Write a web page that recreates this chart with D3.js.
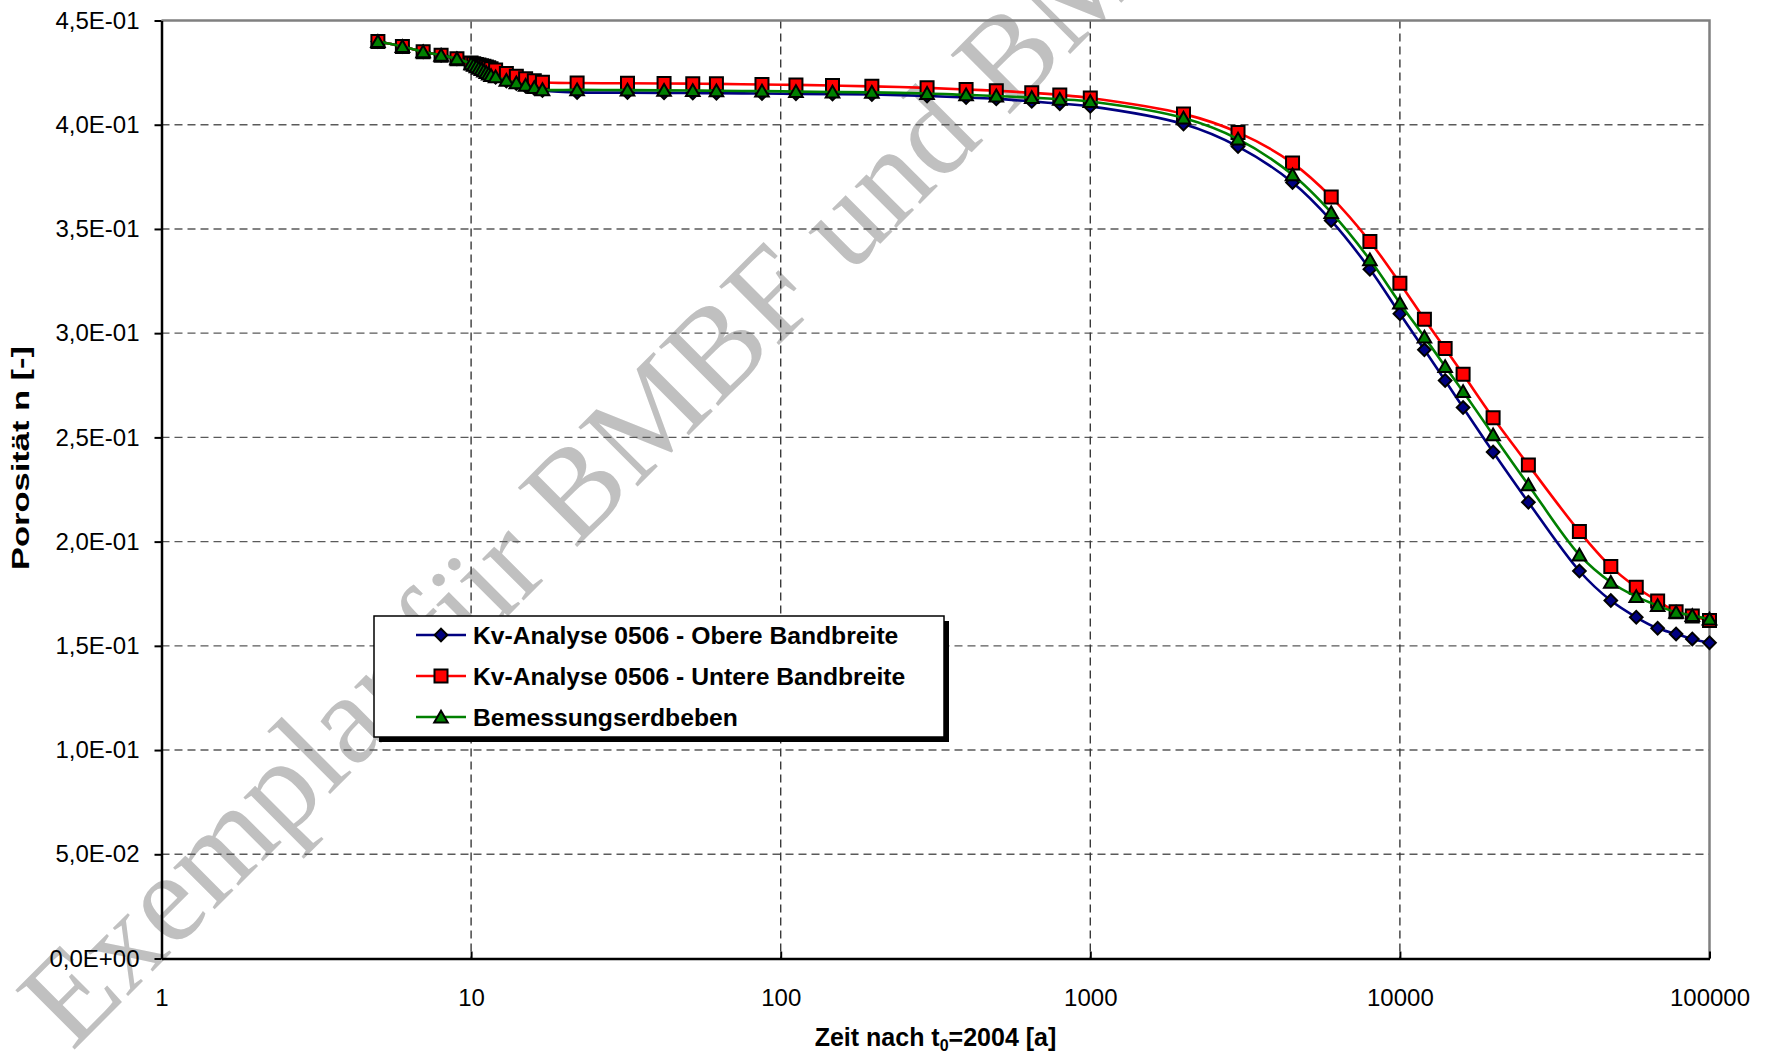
<!DOCTYPE html>
<html><head><meta charset="utf-8">
<script src="https://cdn.jsdelivr.net/npm/d3@7"></script>
<style>body{margin:0;background:#fff;overflow:hidden}</style>
</head><body><svg id="c" width="1772" height="1055"></svg>
<script>
// ---------- data ----------
const times = [5,6,7,8,9,10,10.2,10.4,10.6,10.8,11,11.2,11.4,11.6,12,13,14,15,16,17,
  22,32,42,52,62,87,112,147,197,297,397,497,647,797,1000,
  2000,3000,4500,6000,8000,10000,12000,14000,16000,20000,26000,38000,48000,58000,68000,78000,88000,100000];
const obere = [0.4399,0.4375,0.4350,0.4333,0.4316,0.4292,0.4285,0.4278,0.4271,0.4264,0.4257,0.4250,0.4243,0.4236,0.4228,0.4210,0.4198,0.4185,0.4174,0.4164,
  0.4155,0.4154,0.4153,0.4152,0.4151,0.4150,0.4148,0.4147,0.4145,0.4138,0.4131,0.4124,0.4112,0.4101,0.4088,
  0.4003,0.3895,0.3723,0.3540,0.3307,0.3093,0.2920,0.2773,0.2643,0.2430,0.2189,0.1859,0.1717,0.1637,0.1584,0.1557,0.1533,0.1515];
const untere = [0.4399,0.4375,0.4350,0.4333,0.4316,0.4296,0.4292,0.4289,0.4286,0.4283,0.4280,0.4277,0.4273,0.4269,0.4262,0.4246,0.4233,0.4220,0.4211,0.4204,
  0.4200,0.4199,0.4198,0.4197,0.4196,0.4193,0.4191,0.4188,0.4184,0.4177,0.4169,0.4163,0.4153,0.4143,0.4128,
  0.4052,0.3963,0.3816,0.3653,0.3440,0.3240,0.3067,0.2926,0.2803,0.2594,0.2368,0.2048,0.1880,0.1781,0.1715,0.1664,0.1643,0.1621];
const bemessung = [0.4399,0.4375,0.4350,0.4333,0.4316,0.4292,0.4285,0.4278,0.4271,0.4264,0.4257,0.4250,0.4243,0.4236,0.4230,0.4213,0.4201,0.4189,0.4178,0.4168,
  0.4167,0.4166,0.4165,0.4164,0.4163,0.4161,0.4159,0.4157,0.4155,0.4150,0.4143,0.4138,0.4130,0.4122,0.4111,
  0.4032,0.3931,0.3760,0.3579,0.3352,0.3144,0.2981,0.2840,0.2720,0.2512,0.2272,0.1936,0.1805,0.1736,0.1693,0.1661,0.1645,0.1628];
const seriesNames = ["Kv-Analyse 0506 - Obere Bandbreite","Kv-Analyse 0506 - Untere Bandbreite","Bemessungserdbeben"];
const yTicks = [0,0.05,0.10,0.15,0.20,0.25,0.30,0.35,0.40,0.45];
const yTickLabels = ["0,0E+00","5,0E-02","1,0E-01","1,5E-01","2,0E-01","2,5E-01","3,0E-01","3,5E-01","4,0E-01","4,5E-01"];
const xTicks = [1,10,100,1000,10000,100000];
const xTickLabels = ["1","10","100","1000","10000","100000"];
const yTitle = "Porosität n [-]";
const watermark = "Exemplar für BMBF und BMU";

// ---------- layout ----------
const svg = d3.select("#c");
const L=161.5, R=1709.5, T=20.5, B=958.5;
const x = d3.scaleLog().domain([1,100000]).range([L,R]);
const y = d3.scaleLinear().domain([0,0.45]).range([B,T]);
const FONT = "Liberation Sans, Arial, sans-serif";

svg.append("rect").attr("width",1772).attr("height",1055).attr("fill","#fff");

// watermark (behind)
svg.append("text").attr("transform","translate(72,1052) rotate(-45)")
  .attr("font-family","Liberation Serif, Times New Roman, serif").attr("font-size",128)
  .attr("fill","#c0c0c0").text(watermark);

// gridlines
const grid = svg.append("g");
grid.selectAll("line.h").data(yTicks.filter(d=>d>0 && d<0.45)).join("line")
  .attr("x1",L).attr("x2",R).attr("y1",d=>y(d)).attr("y2",d=>y(d))
  .attr("stroke","#5a5a5a").attr("stroke-width",1.4).attr("stroke-dasharray","8,5");
grid.selectAll("line.v").data(xTicks.filter(d=>d>1 && d<100000)).join("line")
  .attr("y1",T).attr("y2",B).attr("x1",d=>x(d)).attr("x2",d=>x(d))
  .attr("stroke","#3a3a3a").attr("stroke-width",1.4).attr("stroke-dasharray","8,5");

// top/right border
svg.append("path").attr("d",`M${L},${T}H${R}V${B}`).attr("fill","none").attr("stroke","#808080").attr("stroke-width",2.5);

// axes
const yAxis = svg.append("g").attr("transform",`translate(${L},0)`)
  .call(d3.axisLeft(y).tickValues(yTicks).tickFormat((d,i)=>yTickLabels[i]).tickSize(7).tickPadding(15).tickSizeOuter(0));
const xAxis = svg.append("g").attr("transform",`translate(0,${B})`)
  .call(d3.axisBottom(x).tickValues(xTicks).tickFormat((d,i)=>xTickLabels[i]).tickSize(-7).tickPadding(30).tickSizeOuter(0));
[yAxis,xAxis].forEach(g=>{
  g.select(".domain").attr("stroke","#000").attr("stroke-width",2.5);
  g.selectAll(".tick line").attr("stroke","#000").attr("stroke-width",2);
  g.selectAll(".tick text").attr("font-family",FONT).attr("font-size",24).attr("fill","#000");
});

// series
const series = [
  {vals:obere, color:"#000080", sym:"diamond"},
  {vals:untere, color:"#ff0000", sym:"square"},
  {vals:bemessung, color:"#008000", sym:"triangle"}
];
function symPath(s){
  if(s==="square") return d3.symbol(d3.symbolSquare,169)();
  if(s==="diamond") return d3.symbol(d3.symbolSquare,80)();
  return d3.symbol(d3.symbolTriangle,80)();
}
const line = d3.line().x((d,i)=>x(times[i])).y(d=>y(d)).curve(d3.curveCatmullRom.alpha(0.5));
series.forEach(s=>{
  const g = svg.append("g");
  g.append("path").datum(s.vals).attr("d",line).attr("fill","none").attr("stroke",s.color).attr("stroke-width",2.6);
  g.selectAll("path.m").data(s.vals).join("path").attr("class","m")
    .attr("d",symPath(s.sym))
    .attr("transform",(d,i)=>`translate(${x(times[i])},${y(d)+(s.sym==="triangle"?1.5:0)})${s.sym==="diamond"?" rotate(45)":""}`)
    .attr("fill",s.color).attr("stroke","#000").attr("stroke-width",2);
});

// legend
const lg = svg.append("g");
lg.append("rect").attr("x",379).attr("y",621).attr("width",570).attr("height",121).attr("fill","#000");
lg.append("rect").attr("x",374).attr("y",616).attr("width",570).attr("height",121).attr("fill","#fff").attr("stroke","#000").attr("stroke-width",1.5);
const rowsY = [635,676,717];
series.forEach((s,i)=>{
  lg.append("line").attr("x1",416).attr("x2",466).attr("y1",rowsY[i]).attr("y2",rowsY[i]).attr("stroke",s.color).attr("stroke-width",2.6);
  lg.append("path").attr("d",symPath(s.sym))
    .attr("transform",`translate(441,${rowsY[i]+(s.sym==="triangle"?1.5:0)})${s.sym==="diamond"?" rotate(45)":""}`)
    .attr("fill",s.color).attr("stroke","#000").attr("stroke-width",2);
  lg.append("text").attr("x",473).attr("y",rowsY[i]).attr("dy","0.36em")
    .attr("font-family",FONT).attr("font-weight","bold").attr("font-size",24.7).text(seriesNames[i]);
});

// axis titles
const xt = svg.append("text").attr("x",(L+R)/2).attr("y",1046).attr("text-anchor","middle")
  .attr("font-family",FONT).attr("font-weight","bold").attr("font-size",25);
xt.append("tspan").text("Zeit nach t");
xt.append("tspan").attr("font-size",16).attr("dy",5).text("0");
xt.append("tspan").attr("dy",-5).text("=2004 [a]");
svg.append("text").attr("transform","translate(29,458) rotate(-90)").attr("text-anchor","middle")
  .attr("font-family",FONT).attr("font-weight","bold").attr("font-size",24)
  .attr("textLength",224).attr("lengthAdjust","spacingAndGlyphs").text(yTitle);
</script></body></html>
